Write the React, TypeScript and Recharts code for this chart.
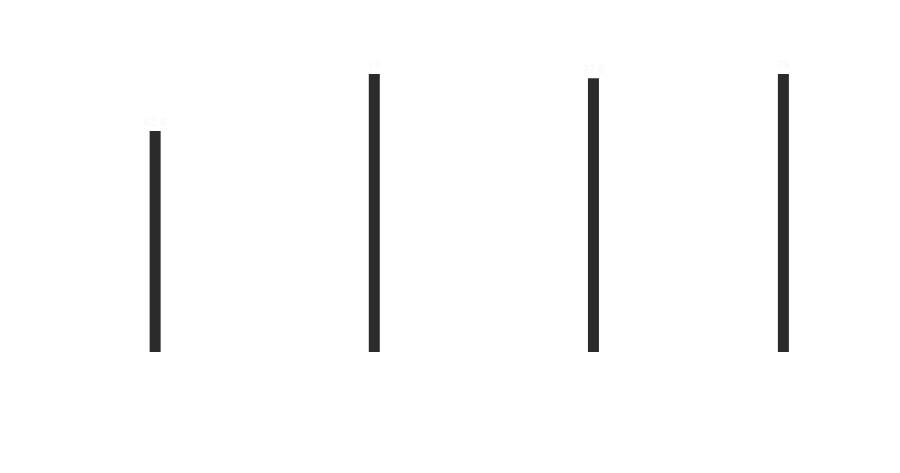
import { BarChart, Bar, XAxis, YAxis, LabelList } from "recharts";

// x positions are years (gaps read as 15, 15, 13)
const years = [1980, 1995, 2010, 2023];
const values = [62.8, 79.0, 77.8, 79.0];

const BAR_COLOR = "#2b2b2b";

const data = years.map((year, i) => ({ year, value: values[i] }));

export default function App() {
  return (
    <div style={{ position: "absolute", left: 0, top: 0, width: 900, height: 473, background: "#fff" }}>
      <BarChart
        width={900}
        height={473}
        data={data}
        margin={{ top: 0, right: 0, bottom: 121, left: 0 }}
      >
        <XAxis dataKey="year" type="number" domain={[1969.35, 2030.95]} hide />
        <YAxis type="number" domain={[0, 100]} hide />
        <Bar dataKey="value" fill={BAR_COLOR} barSize={11} isAnimationActive={false}>
          <LabelList
            dataKey="value"
            position="top"
            fill="#f8f8f8"
            fontSize={10}
            fontFamily="DejaVu Sans"
          />
        </Bar>
      </BarChart>
    </div>
  );
}
